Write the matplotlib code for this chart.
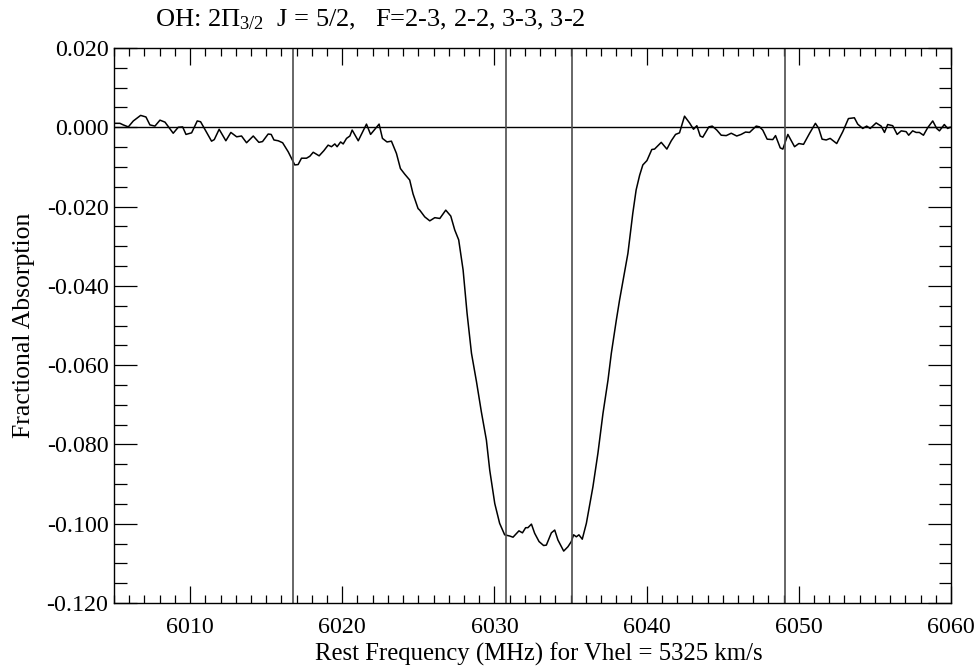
import matplotlib
matplotlib.use('Agg')
import matplotlib.pyplot as plt
import numpy as np
from matplotlib.ticker import MultipleLocator, FormatStrFormatter

# spectrum (rest frequency MHz, fractional absorption)
freq = [6005.07, 6005.39, 6005.61, 6005.94, 6006.27, 6006.75, 6007.10, 6007.36, 6007.69, 6008.02,
        6008.35, 6008.89, 6009.22, 6009.51, 6009.73, 6010.10, 6010.47, 6010.69, 6010.97, 6011.41,
        6011.59, 6011.91, 6012.35, 6012.68, 6013.06, 6013.38, 6013.71, 6014.15, 6014.52, 6014.76,
        6015.13, 6015.33, 6015.51, 6015.79, 6016.08, 6016.45, 6016.88, 6017.10, 6017.32, 6017.65,
        6017.87, 6018.09, 6018.48, 6018.79, 6019.07, 6019.29, 6019.51, 6019.66, 6019.89, 6020.06,
        6020.28, 6020.50, 6020.65, 6021.05, 6021.59, 6021.86, 6022.42, 6022.64, 6022.94, 6023.23,
        6023.56, 6023.82, 6024.10, 6024.43, 6024.65, 6024.98, 6025.09, 6025.42, 6025.75, 6026.08,
        6026.41, 6026.80, 6027.13, 6027.39, 6027.65, 6027.94, 6028.20, 6028.49, 6028.82, 6029.14,
        6029.47, 6029.69, 6030.02, 6030.34, 6030.67, 6031.00, 6031.22, 6031.61, 6031.84, 6032.05,
        6032.20, 6032.43, 6032.64, 6032.93, 6033.23, 6033.41, 6033.74, 6033.96, 6034.17, 6034.55,
        6034.83, 6035.05, 6035.20, 6035.38, 6035.55, 6035.77, 6036.04, 6036.47, 6036.80, 6037.13,
        6037.46, 6037.68, 6038.01, 6038.22, 6038.77, 6039.09, 6039.31, 6039.54, 6039.75, 6040.02,
        6040.34, 6040.52, 6040.96, 6041.33, 6041.62, 6041.90, 6042.16, 6042.49, 6042.82, 6043.08,
        6043.30, 6043.52, 6043.69, 6044.09, 6044.31, 6044.61, 6044.90, 6045.23, 6045.56, 6045.92,
        6046.21, 6046.50, 6046.76, 6047.20, 6047.42, 6047.63, 6047.92, 6048.29, 6048.47, 6048.78,
        6048.95, 6049.28, 6049.72, 6050.00, 6050.31, 6050.71, 6051.09, 6051.31, 6051.53, 6051.80,
        6052.06, 6052.49, 6052.89, 6053.26, 6053.65, 6053.87, 6054.20, 6054.46, 6054.69, 6055.08,
        6055.41, 6055.63, 6055.84, 6056.17, 6056.46, 6056.73, 6057.05, 6057.22, 6057.48, 6057.71,
        6057.92, 6058.19, 6058.47, 6058.80, 6059.06, 6059.24, 6059.56, 6059.78, 6059.94]
absorp = [0.0010, 0.0010, 0.0006, 0.0001, 0.0016, 0.0030, 0.0026, 0.0006, 0.0003, 0.0018,
          0.0013, -0.0015, 0.0000, 0.0001, -0.0018, -0.0014, 0.0016, 0.0014, -0.0005, -0.0035,
          -0.0031, -0.0005, -0.0034, -0.0013, -0.0024, -0.0022, -0.0039, -0.0022, -0.0038, -0.0036,
          -0.0017, -0.0018, -0.0032, -0.0034, -0.0039, -0.0062, -0.0095, -0.0094, -0.0078, -0.0078,
          -0.0073, -0.0063, -0.0072, -0.0059, -0.0045, -0.0049, -0.0042, -0.0049, -0.0037, -0.0042,
          -0.0028, -0.0022, -0.0007, -0.0034, 0.0008, -0.0018, 0.0008, -0.0028, -0.0037, -0.0035,
          -0.0066, -0.0104, -0.0118, -0.0133, -0.0168, -0.0205, -0.0209, -0.0226, -0.0236, -0.0228,
          -0.0230, -0.0209, -0.0224, -0.0259, -0.0284, -0.0360, -0.0469, -0.0570, -0.0642, -0.0718,
          -0.0789, -0.0865, -0.0949, -0.0999, -0.1028, -0.1031, -0.1034, -0.1018, -0.1023, -0.1010,
          -0.1010, -0.1001, -0.1024, -0.1045, -0.1055, -0.1054, -0.1023, -0.1016, -0.1041, -0.1069,
          -0.1058, -0.1045, -0.1028, -0.1033, -0.1028, -0.1039, -0.0999, -0.0907, -0.0822, -0.0722,
          -0.0638, -0.0570, -0.0486, -0.0436, -0.0318, -0.0217, -0.0158, -0.0121, -0.0095, -0.0084,
          -0.0056, -0.0055, -0.0038, -0.0055, -0.0034, -0.0018, -0.0014, 0.0028, 0.0011, -0.0005,
          0.0004, -0.0022, -0.0025, 0.0001, 0.0003, -0.0007, -0.0020, -0.0021, -0.0015, -0.0022,
          -0.0018, -0.0012, -0.0013, 0.0003, 0.0001, -0.0007, -0.0030, -0.0031, -0.0021, -0.0052,
          -0.0055, -0.0018, -0.0049, -0.0041, -0.0043, -0.0015, 0.0010, -0.0003, -0.0030, -0.0032,
          -0.0028, -0.0041, -0.0011, 0.0022, 0.0024, 0.0008, -0.0003, 0.0003, -0.0003, 0.0011,
          0.0003, -0.0013, 0.0007, 0.0004, -0.0018, -0.0009, -0.0011, -0.0020, -0.0009, -0.0013,
          -0.0013, -0.0020, -0.0001, 0.0016, -0.0003, -0.0009, 0.0007, -0.0003, 0.0000]

# hyperfine rest frequencies (MHz) of F=2-3, 2-2, 3-3, 3-2
lines = [6016.746, 6030.747, 6035.092, 6049.084]

plt.rcParams['font.family'] = ['Liberation Serif', 'DejaVu Serif']
plt.rcParams['mathtext.fontset'] = 'custom'
plt.rcParams['mathtext.rm'] = 'Liberation Serif'
plt.rcParams['mathtext.it'] = 'Liberation Serif:italic'
plt.rcParams['axes.unicode_minus'] = False

fig = plt.figure(figsize=(9.79, 6.69), dpi=100)
ax = fig.add_axes([114 / 979, 66 / 669, 837 / 979, 555 / 669])

ax.plot(freq, absorp, color='black', lw=1.1)
ax.axhline(0.0, color='black', lw=1.0)
for f in lines:
    ax.axvline(f, color='0.3', lw=1.2)

ax.set_xlim(6005, 6060)
ax.set_ylim(-0.120, 0.020)
ax.xaxis.set_major_locator(MultipleLocator(10))
ax.xaxis.set_minor_locator(MultipleLocator(1))
ax.yaxis.set_major_locator(MultipleLocator(0.02))
ax.yaxis.set_minor_locator(MultipleLocator(0.005))
ax.yaxis.set_major_formatter(FormatStrFormatter('%.3f'))

ax.tick_params(which='both', direction='in', top=True, right=True, labelsize=17.3, width=0.9)
ax.tick_params(axis='x', which='major', length=12, pad=10)
ax.tick_params(axis='x', which='minor', length=5.5)
ax.tick_params(axis='y', which='major', length=16.5, pad=4)
ax.tick_params(axis='y', which='minor', length=9)
for s in ax.spines.values():
    s.set_linewidth(1.0)

ax.set_xlabel('Rest Frequency (MHz) for Vhel = 5325 km/s', fontsize=17.8, labelpad=1)
ax.xaxis.set_label_coords(0.508, -0.072)
ax.set_ylabel('Fractional Absorption', fontsize=18.5, labelpad=8)
fig.text(155 / 979, 1 - 20 / 669, r'OH: 2$\mathrm{\Pi}_{3/2}$  J = 5/2,   F=2-3, 2-2, 3-3, 3-2',
         fontsize=19, va='center', ha='left')

fig.savefig('out.png', dpi=100)
